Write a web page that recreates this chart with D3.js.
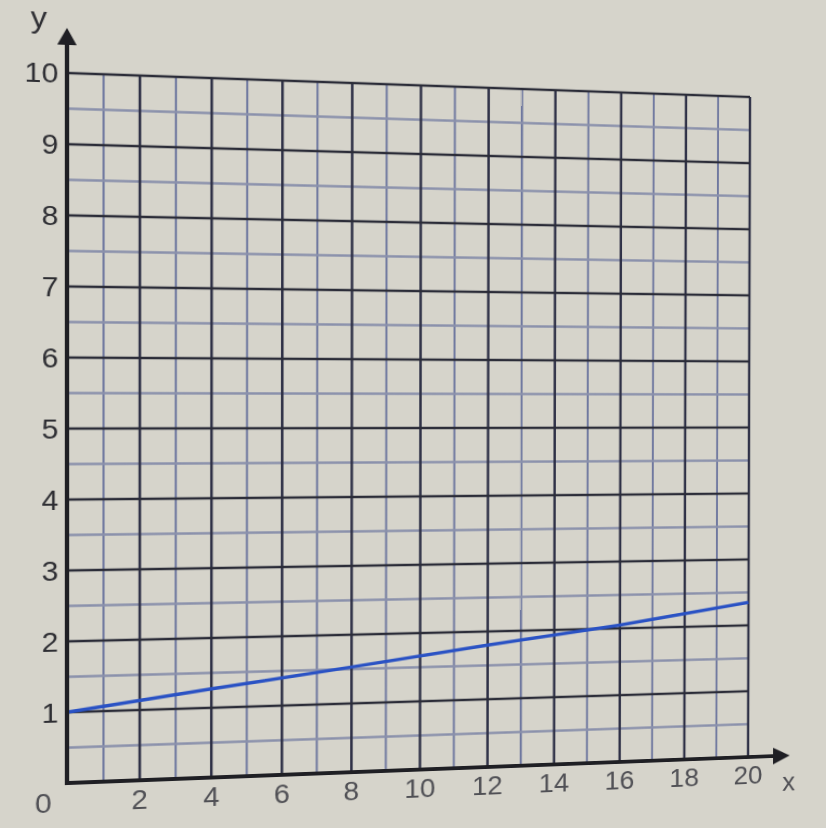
<!DOCTYPE html>
<meta charset="utf-8">
<style>
    body { margin: 0; background: #d6d4cb; overflow: hidden; }
    svg { position: absolute; left: 0; top: 0; transform-origin: 0 0; }
    text { font-family: "Liberation Sans", Arial, sans-serif; }
</style>
<svg width="826" height="828"></svg>
<script src="https://d3js.org/d3.v7.min.js"></script>
<script>

    // data
    var xTicks = [0, 2, 4, 6, 8, 10, 12, 14, 16, 18, 20],
        yTicks = [1, 2, 3, 4, 5, 6, 7, 8, 9, 10],
        xMinor = [1, 3, 5, 7, 9, 11, 13, 15, 17, 19],
        yMinor = [0.5, 1.5, 2.5, 3.5, 4.5, 5.5, 6.5, 7.5, 8.5, 9.5],
        lineX = [0, 4, 8, 12, 16, 20],
        lineY = [1, 1.27, 1.53, 1.8, 2.05, 2.35];

    //begin: layout conf. (note: "top" is taken by window.top)
    var svg = d3.select("svg"),
        plotLeft = 67, plotRight = 748, plotTop = 73, plotBottom = 783;
    //end: layout conf.

    var x = d3.scaleLinear().domain([0, 20]).range([plotLeft, plotRight]),
        y = d3.scaleLinear().domain([0, 10]).range([plotBottom, plotTop]);

    var grid = svg.append("g");

    // minor grid
    grid.selectAll(".vminor").data(xMinor).enter().append("line")
        .attr("x1", x).attr("x2", x).attr("y1", y(0)).attr("y2", y(10))
        .attr("stroke", "#6f789f").attr("stroke-width", 2);
    grid.selectAll(".hminor").data(yMinor).enter().append("line")
        .attr("x1", x(0)).attr("x2", x(20)).attr("y1", y).attr("y2", y)
        .attr("stroke", "#8a90ab").attr("stroke-width", 2.5);

    // major grid
    grid.selectAll(".vmajor").data(xTicks.slice(1)).enter().append("line")
        .attr("x1", x).attr("x2", x).attr("y1", y(0)).attr("y2", y(10))
        .attr("stroke", "#2e3046").attr("stroke-width", 2.5);
    grid.selectAll(".hmajor").data(yTicks).enter().append("line")
        .attr("x1", x(0)).attr("x2", x(20)).attr("y1", y).attr("y2", y)
        .attr("stroke", "#2b2c38").attr("stroke-width", 2.5);

    // the line
    var line = d3.line()
        .x(function(d, i) { return x(lineX[i]); })
        .y(function(d) { return y(d); });
    svg.append("path")
        .attr("d", line(lineY))
        .attr("fill", "none")
        .attr("stroke", "#2a52c4")
        .attr("stroke-width", 3.5);

    // axes with arrows
    svg.append("line")
        .attr("x1", x(0)).attr("x2", x(0)).attr("y1", y(0) + 2).attr("y2", 40)
        .attr("stroke", "#1f1f24").attr("stroke-width", 4);
    svg.append("path")
        .attr("d", "M" + [x(0), 28] + "L" + [x(0) - 9, 45] + "L" + [x(0) + 9, 45] + "Z")
        .attr("fill", "#1f1f24");
    svg.append("line")
        .attr("x1", x(0) - 2).attr("x2", 775).attr("y1", y(0)).attr("y2", y(0))
        .attr("stroke", "#1f1f24").attr("stroke-width", 4);
    svg.append("path")
        .attr("d", "M" + [793, y(0)] + "L" + [775, y(0) - 9] + "L" + [775, y(0) + 9] + "Z")
        .attr("fill", "#1f1f24");

    // tick labels
    svg.selectAll(".ylab").data(yTicks).enter().append("text")
        .attr("x", x(0) - 8).attr("y", y).attr("dy", "0.36em")
        .attr("text-anchor", "end")
        .attr("font-size", 28)
        .attr("fill", "#2e2e33")
        .text(function(d) { return d; });
    svg.selectAll(".xlab").data(xTicks).enter().append("text")
        .attr("x", function(d) { return d === 0 ? x(0) - 22 : x(d); })
        .attr("y", y(0) + 19).attr("dy", "0.36em")
        .attr("text-anchor", "middle")
        .attr("font-size", 28)
        .attr("fill", "#505055")
        .text(function(d) { return d; });
    svg.append("text")
        .attr("x", 41).attr("y", 18).attr("dy", "0.36em")
        .attr("text-anchor", "middle").attr("font-size", 30).attr("fill", "#2e2e33")
        .text("y");
    svg.append("text")
        .attr("x", 792).attr("y", y(0) + 28).attr("dy", "0.36em")
        .attr("text-anchor", "middle").attr("font-size", 28).attr("fill", "#505055")
        .text("x");

    // the photo is taken at an angle: warp the flat chart onto the photographed corners
    var src = [[plotLeft, plotTop], [plotRight, plotTop], [plotLeft, plotBottom], [plotRight, plotBottom]],
        dst = [[67, 73], [750, 97], [67, 783], [748, 757]];
    svg.style("transform", matrix3d(homography(src, dst)));

    function homography(src, dst) {
        var A = [], B = [];
        for (var i = 0; i < 4; i++) {
            var px = src[i][0], py = src[i][1], u = dst[i][0], v = dst[i][1];
            A.push([px, py, 1, 0, 0, 0, -u * px, -u * py]); B.push(u);
            A.push([0, 0, 0, px, py, 1, -v * px, -v * py]); B.push(v);
        }
        return solve(A, B);
    }

    function solve(A, B) {
        var n = B.length;
        for (var c = 0; c < n; c++) {
            var p = c;
            for (var r = c + 1; r < n; r++) if (Math.abs(A[r][c]) > Math.abs(A[p][c])) p = r;
            var t = A[c]; A[c] = A[p]; A[p] = t;
            t = B[c]; B[c] = B[p]; B[p] = t;
            for (var r = c + 1; r < n; r++) {
                var f = A[r][c] / A[c][c];
                for (var k = c; k < n; k++) A[r][k] -= f * A[c][k];
                B[r] -= f * B[c];
            }
        }
        var s = new Array(n);
        for (var r = n - 1; r >= 0; r--) {
            var sum = B[r];
            for (var k = r + 1; k < n; k++) sum -= A[r][k] * s[k];
            s[r] = sum / A[r][r];
        }
        return s;
    }

    function matrix3d(h) {
        // h = [a, b, c, d, e, f, g, h] of the 2D homography, CSS wants column-major 4x4
        return "matrix3d(" + [h[0], h[3], 0, h[6], h[1], h[4], 0, h[7], 0, 0, 1, 0, h[2], h[5], 0, 1].join(",") + ")";
    }

</script>
